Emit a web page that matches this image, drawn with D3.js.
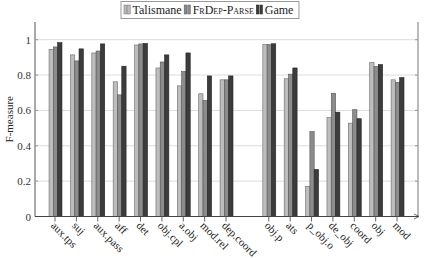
<!DOCTYPE html>
<html><head><meta charset="utf-8">
<script src="https://cdn.jsdelivr.net/npm/d3@7"></script>
<style>
html,body{margin:0;padding:0;background:#fff;}
</style></head>
<body><svg id="c" width="426" height="258"></svg>
<script>
const categories = ["aux.tps","suj","aux.pass","aff","det","obj.cpl","a.obj","mod.rel","dep.coord","obj.p","ats","p_obj.o","de_obj","coord","obj","mod"];
const groupBreakAfter = "dep.coord";
const seriesNames = ["Talismane","FrDep-Parse","Game"];
const talismane  = [0.945,0.914,0.925,0.762,0.970,0.840,0.739,0.694,0.773,0.972,0.779,0.170,0.559,0.528,0.870,0.773];
const frdepParse = [0.959,0.880,0.936,0.688,0.976,0.874,0.820,0.656,0.773,0.972,0.805,0.480,0.697,0.604,0.848,0.759];
const game       = [0.983,0.948,0.976,0.850,0.979,0.914,0.925,0.795,0.795,0.977,0.840,0.266,0.590,0.553,0.859,0.786];
const yTicks = [0,0.2,0.4,0.6,0.8,1];
const yLabel = "F-measure";

const FONT = "'Liberation Serif', 'DejaVu Serif', serif";
const series = [talismane, frdepParse, game];
const fills = ["#bdbdbd","#8c8c8c","#3c3c3c"];
const strokes = ["#6a6a6a","#555","#222"];

const svg = d3.select("#c").style("font-family", FONT);
const L = 35, R = 418, T = 22, B = 216.5;
const breakIdx = categories.indexOf(groupBreakAfter);
const slot = i => i + (i > breakIdx ? 1 : 0);
const x = d3.scaleLinear().domain([-0.936, 16.98]).range([L, R]);
const y = d3.scaleLinear().domain([0, 1.1]).range([B, T]);
const bw = 4.3;

// grid
svg.append("g").selectAll("line").data(yTicks.filter(d=>d>0)).join("line")
  .attr("x1", L).attr("x2", R).attr("y1", d=>y(d)).attr("y2", d=>y(d))
  .attr("stroke", "#dcdcdc").attr("stroke-width", 1);

// bars
series.forEach((vals, s) => {
  svg.append("g").selectAll("rect").data(vals).join("rect")
    .attr("x", (d,i) => x(slot(i)) + (s - 1.5) * bw + 0.5)
    .attr("y", d => y(d))
    .attr("width", bw)
    .attr("height", d => y(0) - y(d))
    .attr("fill", fills[s]).attr("stroke", strokes[s]).attr("stroke-width", 0.6);
});

// axes
const yAxis = d3.axisLeft(y).tickValues(yTicks).tickSize(0).tickPadding(4)
  .tickFormat(d => d === 0 ? "0" : d === 1 ? "1" : d3.format(".1f")(d));
const ga = svg.append("g").attr("transform", `translate(${L},0)`).call(yAxis);
ga.attr("font-family", null).style("font-family", FONT);
ga.select(".domain").remove();
ga.selectAll("text").attr("font-size", 11).attr("fill", "#333");

svg.append("line").attr("x1", L).attr("x2", L).attr("y1", T).attr("y2", B).attr("stroke", "#555").attr("stroke-width", 1);
svg.append("line").attr("x1", R).attr("x2", R).attr("y1", T).attr("y2", B).attr("stroke", "#777").attr("stroke-width", 1);
// small y tick stubs
svg.append("g").selectAll("line").data(yTicks).join("line")
  .attr("x1", L).attr("x2", L+3).attr("y1", d=>y(d)).attr("y2", d=>y(d)).attr("stroke", "#999");
svg.append("g").selectAll("line").data(yTicks).join("line")
  .attr("x1", R-3).attr("x2", R).attr("y1", d=>y(d)).attr("y2", d=>y(d)).attr("stroke", "#999");

// x axis with arrow
svg.append("line").attr("x1", L).attr("x2", R).attr("y1", B).attr("y2", B).attr("stroke", "#444").attr("stroke-width", 1);
svg.append("path").attr("d", `M${R-4},${B-2.5} L${R+1},${B} L${R-4},${B+2.5}`).attr("fill","none").attr("stroke","#444").attr("stroke-width",0.8);

const gx = svg.append("g");
gx.selectAll("line").data(categories).join("line")
  .attr("x1", (d,i)=>x(slot(i))).attr("x2", (d,i)=>x(slot(i)))
  .attr("y1", B).attr("y2", B+5).attr("stroke", "#666");
gx.selectAll("text").data(categories).join("text")
  .attr("transform", (d,i)=>`translate(${x(slot(i))+1},${B+4}) rotate(45)`)
  .attr("dy", "0.75em").attr("font-size", 11).attr("fill", "#222")
  .text(d=>d);

// y label
svg.append("text").attr("transform", `translate(13,${(T+B)/2}) rotate(-90)`)
  .attr("text-anchor","middle").attr("font-size", 11).attr("fill","#222").text(yLabel);

// legend
const lg = svg.append("g");
const box = lg.append("rect").attr("y", 1.5).attr("height", 17).attr("fill","#fff").attr("stroke","#999").attr("stroke-width",1);
let cx = 124;
seriesNames.forEach((name, s) => {
  lg.append("rect").attr("x", cx).attr("y", 5).attr("width", 2.6).attr("height", 9).attr("fill", fills[s]).attr("stroke", strokes[s]).attr("stroke-width",0.5);
  lg.append("rect").attr("x", cx+3.6).attr("y", 5).attr("width", 2.6).attr("height", 9).attr("fill", fills[s]).attr("stroke", strokes[s]).attr("stroke-width",0.5);
  const t = lg.append("text").attr("x", cx+8.5).attr("y", 14).attr("font-size", 12).attr("fill","#222")
    .style("font-variant", s === 1 ? "small-caps" : "normal").text(name);
  cx += 8.5 + t.node().getComputedTextLength() + 2.5;
});
box.attr("x", 121).attr("width", cx - 121 + 3);
</script></body></html>
